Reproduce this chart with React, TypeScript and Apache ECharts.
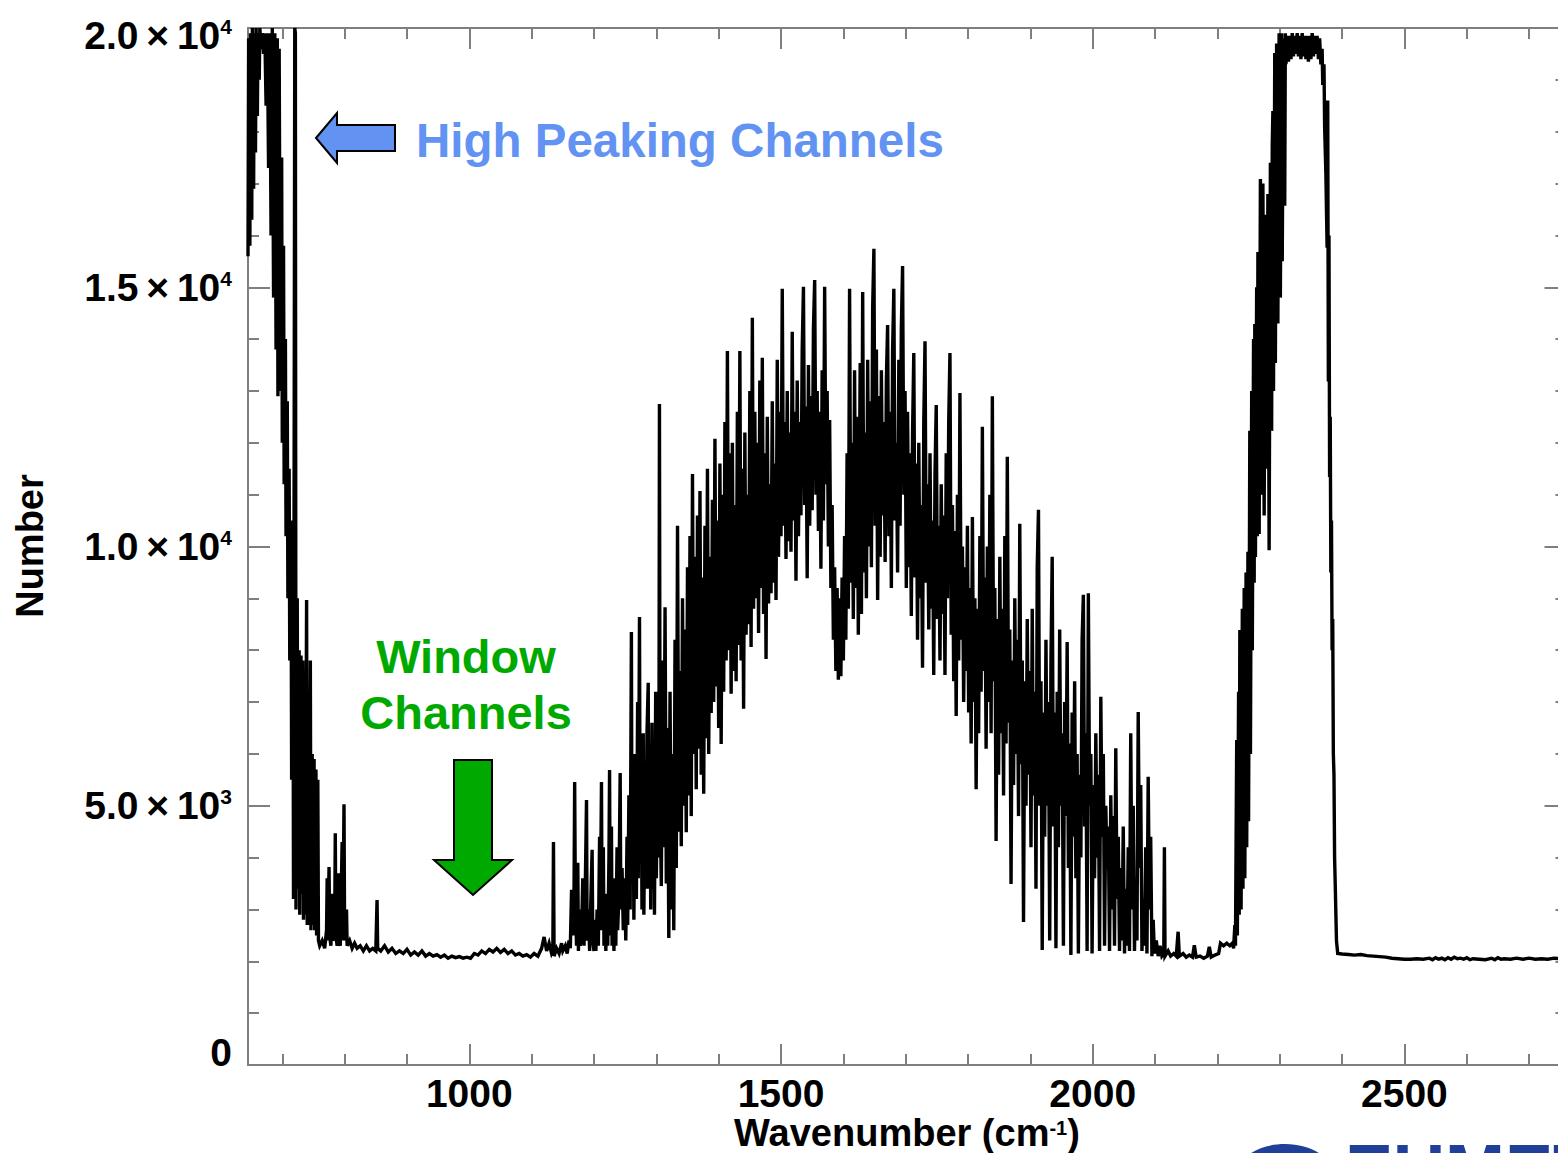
import { useEffect, useRef } from "react";
import * as echarts from "echarts";

// ---- data: IASI channel counts (wavenumber cm-1, number) ----
const co2BandEdge: [number, number][] = [
  [645, 15600], [646, 19800], [648, 15800], [649, 19900], [651, 16300], [652, 20000], [654, 16900], [655, 19900],
  [657, 17600], [658, 20000], [660, 18300], [661, 19900], [663, 19000], [664, 20000], [666, 19600], [668, 19900],
  [670, 19500], [672, 19900], [674, 18500], [676, 19900], [678, 17300], [680, 19900], [682, 16000], [684, 20000],
  [686, 14800], [688, 19900], [690, 13800], [692, 19800], [693, 12900], [695, 19600], [697, 13000], [699, 17500],
  [700, 12000], [702, 15800], [703, 11200], [705, 14000], [706, 10200], [708, 12800], [709, 9000], [711, 11500],
  [712, 7800], [714, 10500], [715, 5500], [717, 9800], [718, 3200], [720, 20000], [721, 19900], [722, 3000],
  [724, 9000], [725, 3400], [727, 8000], [728, 2900], [730, 7900], [731, 3300], [733, 7800], [734, 2800],
  [736, 7600], [737, 2900], [739, 8970], [740, 2700], [742, 7000], [743, 2700], [745, 7800], [746, 2600],
  [748, 6000], [749, 2700], [751, 5900], [752, 2600], [754, 5700], [755, 2500], [757, 5500], [758, 2400], [760, 2300],
];

const windowRegion: [number, number][] = [
  [764, 2400], [768, 2250], [771, 2600], [772, 3600], [773, 2400], [775, 3820], [776, 2500], [778, 2300],
  [780, 3300], [781, 2400], [784, 2500], [785, 4470], [786, 2500], [788, 2300], [790, 3700], [791, 2400],
  [793, 2300], [796, 4300], [797, 2400], [799, 5030], [800, 2400], [803, 3000], [804, 2300], [808, 2400],
  [812, 2250], [816, 2350], [820, 2250], [825, 2300], [830, 2200], [835, 2300], [840, 2200], [845, 2250],
  [850, 2200], [852, 3180], [853, 2250], [858, 2200], [864, 2300], [870, 2180], [876, 2250], [882, 2150],
  [888, 2200], [894, 2150], [900, 2230], [906, 2120], [912, 2180], [918, 2120], [924, 2200], [930, 2100],
  [936, 2150], [942, 2100], [948, 2130], [954, 2080], [960, 2120], [966, 2060], [972, 2100], [978, 2070],
  [984, 2090], [990, 2060], [996, 2080], [1002, 2060], [1008, 2150], [1014, 2120], [1020, 2200], [1026, 2150],
  [1032, 2230], [1038, 2180], [1044, 2250], [1050, 2170], [1056, 2230], [1062, 2150], [1068, 2200], [1074, 2120],
  [1080, 2150], [1086, 2100], [1092, 2130], [1098, 2080], [1104, 2150], [1110, 2100], [1116, 2250], [1120, 2470],
  [1124, 2200], [1128, 2350], [1132, 2150], [1134, 2200], [1135, 4300], [1136, 2100], [1140, 2250], [1144, 2150],
  [1148, 2350],
];

const spikyRise: [number, number][] = [
  [1150, 2200], [1154, 2300], [1157, 2150], [1160, 2400], [1162, 2250], [1164, 3380], [1166, 2500], [1168, 3400],
  [1169, 5460], [1170, 3380], [1172, 2300], [1174, 3900], [1175, 2200], [1177, 3000], [1178, 2300], [1180, 2500],
  [1182, 3600], [1184, 2300], [1186, 3400], [1188, 5110], [1189, 2400], [1191, 3000], [1193, 2200], [1195, 3200],
  [1197, 4150], [1198, 2400], [1200, 2200], [1202, 2800], [1203, 2200], [1205, 3000], [1207, 2300], [1209, 4400],
  [1210, 2600], [1212, 5460], [1213, 2600], [1215, 4200], [1216, 2300], [1218, 2600], [1219, 2200], [1221, 3300],
  [1222, 2300], [1224, 4000], [1225, 5690], [1226, 2500], [1228, 4600], [1229, 2300], [1231, 2800], [1232, 2200],
  [1234, 3600], [1235, 2300], [1237, 4200], [1238, 2600], [1240, 3300], [1242, 5630], [1243, 3000], [1245, 3800],
  [1247, 2600], [1249, 3600], [1251, 2400], [1253, 4400], [1254, 2700], [1256, 5200], [1258, 3000], [1260, 8350],
  [1261, 3600], [1263, 5000], [1264, 2800], [1266, 6000], [1268, 3200], [1270, 7000], [1271, 3600], [1273, 8640],
  [1274, 3900], [1276, 5400], [1277, 3000], [1279, 6400], [1280, 2900], [1282, 5600], [1283, 3400], [1285, 6400],
  [1287, 7370], [1288, 3400], [1290, 5800], [1291, 3000], [1293, 6600], [1294, 3400], [1296, 5600], [1297, 2900],
  [1299, 7200], [1300, 3600], [1302, 6000], [1304, 4000], [1305, 12750], [1306, 5000], [1308, 3450], [1310, 7800],
];

const waterBandRise: [number, number][] = [
  [1312, 4200], [1314, 8830], [1316, 3500], [1318, 6500], [1320, 2450], [1322, 7200], [1324, 3000], [1326, 6000],
  [1328, 2600], [1330, 8200], [1332, 3800], [1334, 10400], [1336, 4500], [1338, 7600], [1340, 4220], [1342, 9000],
  [1344, 5000], [1346, 8400], [1348, 4490], [1350, 9600], [1352, 5200], [1354, 10200], [1356, 4800], [1358, 11400],
  [1360, 6000], [1362, 9800], [1364, 5320], [1366, 10600], [1368, 6100], [1370, 11070], [1372, 5600], [1374, 9400],
  [1376, 5230], [1378, 10400], [1380, 6300], [1382, 11500], [1384, 6000], [1386, 9800], [1388, 6790], [1390, 10900],
  [1392, 7000], [1394, 12080], [1396, 7300], [1398, 10500], [1400, 6500], [1402, 11600], [1404, 6190], [1406, 11000],
  [1408, 7200], [1410, 12400], [1412, 7800], [1414, 13770], [1416, 8000], [1418, 11800], [1420, 7160], [1422, 12000],
  [1424, 7600], [1426, 10800], [1428, 7400], [1430, 12600], [1432, 8100], [1434, 13770], [1436, 7800], [1438, 11500],
  [1440, 6870], [1442, 12200], [1444, 8300], [1446, 11000], [1448, 8500], [1450, 13000], [1452, 8060], [1454, 14410],
  [1456, 8800], [1458, 12600], [1460, 9000], [1462, 12000], [1464, 8330], [1466, 13200], [1468, 9200], [1470, 13640],
  [1472, 8700], [1474, 11800], [1476, 7830], [1478, 12500], [1480, 8900], [1482, 11200], [1484, 9100], [1486, 12800],
  [1488, 9300], [1490, 11600], [1492, 8970], [1494, 13600], [1496, 9800], [1498, 12600], [1500, 10200], [1502, 14970],
  [1504, 10400], [1506, 12400], [1508, 9760], [1510, 13000], [1512, 10100], [1514, 12200], [1516, 9900], [1518, 14140],
  [1520, 10500], [1522, 12600], [1524, 9340], [1526, 13200], [1528, 10200], [1530, 12400], [1532, 10600], [1534, 13800],
  [1536, 15010], [1538, 10800], [1540, 12700], [1542, 9390], [1544, 13500], [1546, 10400], [1548, 12900], [1550, 10700],
  [1552, 14200], [1554, 15140], [1556, 11000], [1558, 13000], [1560, 10300], [1562, 12600], [1564, 9570], [1566, 13400],
  [1568, 10500], [1570, 15010], [1572, 11200], [1574, 13000], [1576, 10000], [1578, 12440], [1580, 9200], [1582, 10800],
  [1584, 8200], [1586, 9600], [1588, 7600], [1590, 9200], [1592, 7430], [1594, 9000], [1596, 7500], [1598, 9400],
  [1600, 7800], [1602, 10200], [1604, 8200], [1606, 11800], [1608, 8800], [1610, 14970], [1612, 9300], [1614, 12000],
  [1616, 8600], [1618, 13400], [1620, 9200], [1622, 12500], [1624, 8300],
];

const waterBandFall: [number, number][] = [
  [1627, 13540], [1629, 8700], [1631, 14910], [1633, 9500], [1635, 12200], [1637, 9000], [1639, 13600], [1641, 10000],
  [1643, 12800], [1645, 9600], [1647, 14600], [1649, 15740], [1651, 10400], [1653, 13800], [1655, 8970], [1657, 12900],
  [1659, 9800], [1661, 13400], [1663, 10600], [1665, 12400], [1667, 9700], [1669, 13200], [1671, 14270], [1673, 10200],
  [1675, 12600], [1677, 9200], [1679, 13800], [1681, 14970], [1683, 10500], [1685, 12000], [1687, 9500], [1689, 13600],
  [1691, 10400], [1693, 14200], [1695, 15410], [1697, 11000], [1699, 13000], [1701, 9200], [1703, 12600], [1705, 9600],
  [1707, 11800], [1709, 8660], [1711, 12200], [1713, 13730], [1715, 9400], [1717, 11600], [1719, 8200], [1721, 12000],
  [1723, 9000], [1725, 10800], [1727, 7660], [1729, 12400], [1731, 13960], [1733, 9300], [1735, 11200], [1737, 8400],
  [1739, 11800], [1741, 8800], [1743, 10500], [1745, 7520], [1747, 11400], [1749, 12730], [1751, 8600], [1753, 10400],
  [1755, 7800], [1757, 11200], [1759, 8700], [1761, 10600], [1763, 7520], [1765, 11800], [1767, 9000], [1769, 12400],
  [1771, 13730], [1773, 8300], [1775, 10800], [1777, 7400], [1779, 10300], [1781, 6730], [1783, 11000], [1785, 7800],
  [1787, 12960], [1789, 8200], [1791, 10000], [1793, 7000], [1795, 9600], [1797, 7600], [1799, 10400], [1801, 6800],
  [1803, 9200], [1805, 6200], [1807, 10570], [1809, 7000], [1811, 9000], [1813, 5320], [1815, 8800], [1817, 6400],
  [1819, 10200], [1821, 7200], [1823, 12310], [1825, 7600], [1827, 9400], [1829, 6100], [1831, 10000], [1833, 7000],
  [1835, 11000], [1837, 6400], [1839, 12900], [1841, 7400], [1843, 9200], [1845, 4320], [1847, 8600], [1849, 5600],
  [1851, 9800], [1853, 6400], [1855, 8800], [1857, 5200], [1859, 10200], [1861, 6200], [1863, 11730], [1865, 6600],
  [1867, 8400], [1869, 3490], [1871, 7800], [1873, 5400], [1875, 9000], [1877, 6000], [1879, 8200], [1881, 4800],
  [1883, 10440], [1885, 5800], [1887, 7800], [1889, 2760], [1891, 7400], [1893, 5000], [1895, 8600], [1897, 5600],
  [1899, 7600], [1901, 4200], [1903, 8800], [1905, 5200], [1907, 7200], [1909, 3400], [1911, 9600], [1913, 10710],
  [1915, 5000], [1917, 7400], [1919, 2220], [1921, 6800], [1923, 4400], [1925, 8200], [1927, 5000], [1929, 7000],
  [1931, 2400], [1933, 7800], [1935, 9800], [1937, 4600], [1939, 6800], [1941, 2250], [1943, 7200], [1945, 4200],
  [1947, 8400], [1949, 5000], [1951, 6400], [1953, 2300], [1955, 7000], [1957, 4800], [1959, 8160], [1961, 3800],
  [1963, 6200], [1965, 2120], [1967, 6800], [1969, 4400], [1971, 7400], [1973, 3600], [1975, 6000], [1977, 2150],
  [1979, 5600], [1981, 4000], [1983, 8200], [1985, 9070], [1987, 4600], [1989, 6400], [1991, 2200], [1993, 9100],
  [1995, 5000], [1997, 6000], [1999, 2150], [2001, 5400], [2003, 3600], [2005, 6400], [2007, 4000], [2009, 5600],
  [2011, 2200], [2013, 7100], [2015, 4400], [2017, 6000], [2019, 2300], [2021, 5000], [2023, 3800], [2025, 4600],
];

const waterBandTail: [number, number][] = [
  [2027, 2200], [2029, 5200], [2031, 3000], [2033, 4800], [2035, 2300], [2037, 6110], [2039, 3200], [2041, 4400],
  [2043, 2200], [2045, 3800], [2047, 2400], [2049, 4600], [2051, 2150], [2053, 3400], [2055, 2300], [2057, 4200],
  [2059, 2200], [2061, 6400], [2063, 3000], [2065, 5000], [2067, 2200], [2069, 3600], [2071, 2400], [2073, 6810],
  [2075, 3800], [2077, 5400], [2079, 2200], [2081, 3200], [2083, 2300], [2085, 4200], [2087, 2150], [2089, 5560],
  [2091, 3000], [2093, 4400], [2095, 2100], [2097, 2800], [2099, 2150], [2102, 2400], [2105, 2100], [2108, 2300],
  [2111, 2100], [2114, 2150], [2115, 4200], [2116, 2100], [2121, 2200], [2125, 2100], [2130, 2150], [2134, 2100],
  [2137, 2570], [2139, 2100], [2145, 2150], [2150, 2080], [2155, 2120], [2160, 2080], [2163, 2310], [2166, 2080],
  [2172, 2100], [2178, 2060], [2184, 2100], [2187, 2280], [2190, 2080], [2196, 2120], [2202, 2150], [2205, 2350],
  [2210, 2300], [2215, 2350], [2220, 2300], [2224, 2350],
];

const co2Band43: [number, number][] = [
  [2226, 2250], [2228, 2700], [2229, 2300], [2231, 6270], [2232, 2500], [2234, 7200], [2235, 2900], [2236, 8390],
  [2238, 3000], [2240, 8800], [2241, 3400], [2243, 9200], [2244, 3600], [2246, 9500], [2247, 4200], [2249, 9900],
  [2250, 4700], [2252, 12230], [2253, 6000], [2255, 13000], [2256, 8000], [2258, 14000], [2259, 9300], [2260, 14290],
  [2261, 9800], [2263, 15000], [2264, 10200], [2265, 15680], [2267, 10240], [2269, 17090], [2271, 11000], [2273, 17000],
  [2275, 10600], [2277, 16400], [2279, 11500], [2281, 16800], [2283, 9930], [2285, 17400], [2287, 12230], [2288, 17750],
  [2289, 18400], [2290, 13000], [2292, 19520], [2293, 13540], [2295, 19700], [2297, 14300], [2299, 19900], [2301, 14800],
  [2303, 19900], [2304, 15500], [2306, 19800], [2308, 16570], [2309, 19900], [2310, 19300], [2312, 19850], [2314, 19350],
  [2316, 19850], [2318, 19400], [2320, 19900], [2322, 19450], [2324, 19850], [2326, 19500], [2328, 19900], [2330, 19450],
  [2332, 19850], [2334, 19400], [2336, 19900], [2338, 19450], [2340, 19850], [2342, 19400], [2344, 19850], [2346, 19350],
  [2348, 19850], [2350, 19400], [2352, 19900], [2354, 19450], [2356, 19850], [2358, 19500], [2360, 19850], [2362, 19400],
  [2364, 19800], [2366, 19300], [2368, 19600], [2369, 18900], [2371, 19300], [2372, 18100], [2374, 17200], [2376, 15760],
  [2377, 18600], [2378, 13180], [2379, 16000], [2380, 11340], [2381, 12500], [2382, 9500], [2383, 10500], [2384, 8000],
  [2385, 8600], [2386, 6000], [2387, 5600], [2388, 4000], [2389, 3500], [2391, 2400], [2393, 2150],
];

const shortwaveTail: [number, number][] = [
  [2400, 2140], [2410, 2130], [2420, 2120], [2430, 2130], [2440, 2110], [2450, 2100], [2460, 2090], [2470, 2080],
  [2480, 2060], [2490, 2050], [2500, 2040], [2510, 2040], [2520, 2050], [2530, 2040], [2540, 2060], [2545, 2030],
  [2550, 2070], [2555, 2040], [2560, 2060], [2565, 2030], [2570, 2070], [2575, 2040], [2580, 2080], [2585, 2050],
  [2590, 2060], [2595, 2040], [2600, 2070], [2605, 2030], [2610, 2050], [2620, 2040], [2630, 2030], [2640, 2060],
  [2645, 2030], [2650, 2070], [2655, 2040], [2660, 2050], [2670, 2040], [2680, 2060], [2690, 2040], [2700, 2060],
  [2710, 2040], [2720, 2050], [2730, 2040], [2740, 2060], [2750, 2050], [2760, 2050],
];

const xMajorTicks = [1000, 1500, 2000, 2500];
const xMinorTicks = [700, 800, 900, 1100, 1200, 1300, 1400, 1600, 1700, 1800, 1900, 2100, 2200, 2300, 2400, 2600, 2700];
const TS = "\u2009"; // thin space around the multiplication sign
const yTickLabels: Record<number, string> = {
  0: "{z|0}",
  5000: `{m|5.0${TS}×${TS}10}{s|3}`,
  10000: `{m|1.0${TS}×${TS}10}{s|4}`,
  15000: `{m|1.5${TS}×${TS}10}{s|4}`,
  20000: `{mt|2.0${TS}×${TS}10}{st|4}`,
};

const FONT = "'Liberation Sans', Arial, Helvetica, sans-serif";
const AXIS_GRAY = "#7f7f7f";
const BLUE = "#6393F2";
const GREEN = "#00A900";

export default function App() {
  const ref = useRef<HTMLDivElement>(null);

  useEffect(() => {
    if (!ref.current) return;
    const chart = echarts.init(ref.current, null, { renderer: "svg" });
    const spectrum = [
      ...co2BandEdge, ...windowRegion, ...spikyRise, ...waterBandRise,
      ...waterBandFall, ...waterBandTail, ...co2Band43, ...shortwaveTail,
    ];

    const gridLeft = 248;
    const gridTop = 28;
    const gridW = 1318.5;
    const gridH = 1037;

    const axisLineStyle = { color: AXIS_GRAY, width: 2 };
    const baseX = {
      type: "value" as const,
      min: 645,
      max: 2760,
      splitLine: { show: false },
      axisLine: { show: true, onZero: false, lineStyle: axisLineStyle },
    };
    const lab = { fontWeight: "bold", fontFamily: FONT, color: "#000" };
    const richY = {
      m: { ...lab, fontSize: 39 },
      s: { ...lab, fontSize: 21, verticalAlign: "top" },
      mt: { ...lab, fontSize: 39, padding: [14, 0, 0, 0] },
      st: { ...lab, fontSize: 21, verticalAlign: "top", padding: [14, 0, 0, 0] },
      z: { ...lab, fontSize: 39, padding: [0, 0, 26, 0] },
    };

    chart.setOption({
      animation: false,
      backgroundColor: "#ffffff",
      grid: { left: gridLeft, top: gridTop, width: gridW, height: gridH, containLabel: false },
      xAxis: [
        {
          ...baseX,
          position: "bottom",
          axisTick: { show: true, inside: true, length: 21, customValues: xMajorTicks, lineStyle: axisLineStyle },
          axisLabel: {
            show: true,
            customValues: xMajorTicks,
            formatter: (v: number) => String(v),
            fontSize: 39,
            fontWeight: "bold",
            fontFamily: FONT,
            color: "#000",
            margin: 13,
            lineHeight: 30,
          },
        },
        {
          ...baseX,
          position: "bottom",
          axisTick: { show: true, inside: true, length: 11, customValues: xMinorTicks, lineStyle: axisLineStyle },
          axisLabel: { show: false },
        },
        {
          ...baseX,
          position: "top",
          axisTick: { show: true, inside: true, length: 21, customValues: xMajorTicks, lineStyle: axisLineStyle },
          axisLabel: { show: false },
        },
        {
          ...baseX,
          position: "top",
          axisTick: { show: true, inside: true, length: 11, customValues: xMinorTicks, lineStyle: axisLineStyle },
          axisLabel: { show: false },
        },
      ],
      yAxis: [
        {
          type: "value",
          min: 0,
          max: 20000,
          interval: 5000,
          position: "left",
          splitLine: { show: false },
          axisLine: { show: true, onZero: false, lineStyle: axisLineStyle },
          axisTick: { show: true, inside: true, length: 22, lineStyle: axisLineStyle },
          minorTick: { show: true, splitNumber: 5, length: 11, lineStyle: axisLineStyle },
          axisLabel: {
            formatter: (v: number) => yTickLabels[v] ?? "",
            rich: richY,
            margin: 16,
          },
        },
        {
          type: "value",
          min: 0,
          max: 20000,
          interval: 5000,
          position: "right",
          splitLine: { show: false },
          axisLine: { show: true, onZero: false, lineStyle: axisLineStyle },
          axisTick: { show: true, inside: true, length: 22, lineStyle: axisLineStyle },
          minorTick: { show: true, splitNumber: 5, length: 11, lineStyle: axisLineStyle },
          axisLabel: { show: false },
        },
      ],
      series: [
        {
          type: "line",
          xAxisIndex: 0,
          yAxisIndex: 0,
          data: spectrum,
          showSymbol: false,
          symbol: "none",
          silent: true,
          clip: true,
          lineStyle: { color: "#000", width: 3.4, join: "miter" },
        },
      ],
      graphic: [
        // y axis title
        {
          type: "text",
          x: 30,
          y: 546,
          rotation: Math.PI / 2,
          style: {
            text: "Number",
            font: `bold 38px ${FONT}`,
            fill: "#000",
            align: "center",
            verticalAlign: "middle",
          },
        },
        // x axis title
        {
          type: "text",
          x: 907,
          y: 1133,
          style: {
            text: "{m|Wavenumber (cm}{s|-1}{m|)}",
            rich: {
              m: { fontSize: 38, fontWeight: "bold", fontFamily: FONT, fill: "#000", lineHeight: 30 },
              s: { fontSize: 20, fontWeight: "bold", fontFamily: FONT, fill: "#000", verticalAlign: "top", lineHeight: 30 },
            },
            align: "center",
            verticalAlign: "middle",
          },
        },
        // High peaking channels arrow
        {
          type: "polygon",
          shape: {
            points: [[316, 138], [337, 113], [337, 125], [395, 125], [395, 151], [337, 151], [337, 163]],
          },
          style: { fill: BLUE, stroke: "#000", lineWidth: 2 },
        },
        {
          type: "text",
          x: 416,
          y: 140,
          style: {
            text: "High Peaking Channels",
            font: `bold 47.5px ${FONT}`,
            fill: BLUE,
            align: "left",
            verticalAlign: "middle",
          },
        },
        // Window channels
        {
          type: "text",
          x: 466,
          y: 656,
          style: {
            text: "Window",
            font: `bold 47px ${FONT}`,
            fill: GREEN,
            align: "center",
            verticalAlign: "middle",
          },
        },
        {
          type: "text",
          x: 466,
          y: 712,
          style: {
            text: "Channels",
            font: `bold 47px ${FONT}`,
            fill: GREEN,
            align: "center",
            verticalAlign: "middle",
          },
        },
        {
          type: "polygon",
          shape: {
            points: [[454, 760], [492, 760], [492, 860], [512, 860], [473, 895], [434, 860], [454, 860]],
          },
          style: { fill: GREEN, stroke: "#000", lineWidth: 2 },
        },
        // partially visible logo at the bottom edge
        {
          type: "ellipse",
          shape: { cx: 1285, cy: 1172, rx: 46, ry: 28 },
          style: { fill: "#1F3F98" },
        },
        {
          type: "text",
          x: 1345,
          y: 1134,
          style: {
            text: "EUMETSAT",
            font: `bold 72px ${FONT}`,
            fill: "#1F3F98",
            align: "left",
            verticalAlign: "top",
          },
        },
      ],
    });

    return () => chart.dispose();
  }, []);

  return (
    <div
      style={{
        position: "fixed",
        left: 0,
        top: 0,
        width: "1558px",
        height: "1153px",
        overflow: "hidden",
        background: "#fff",
      }}
    >
      <div ref={ref} style={{ width: "1600px", height: "1153px" }} />
    </div>
  );
}
